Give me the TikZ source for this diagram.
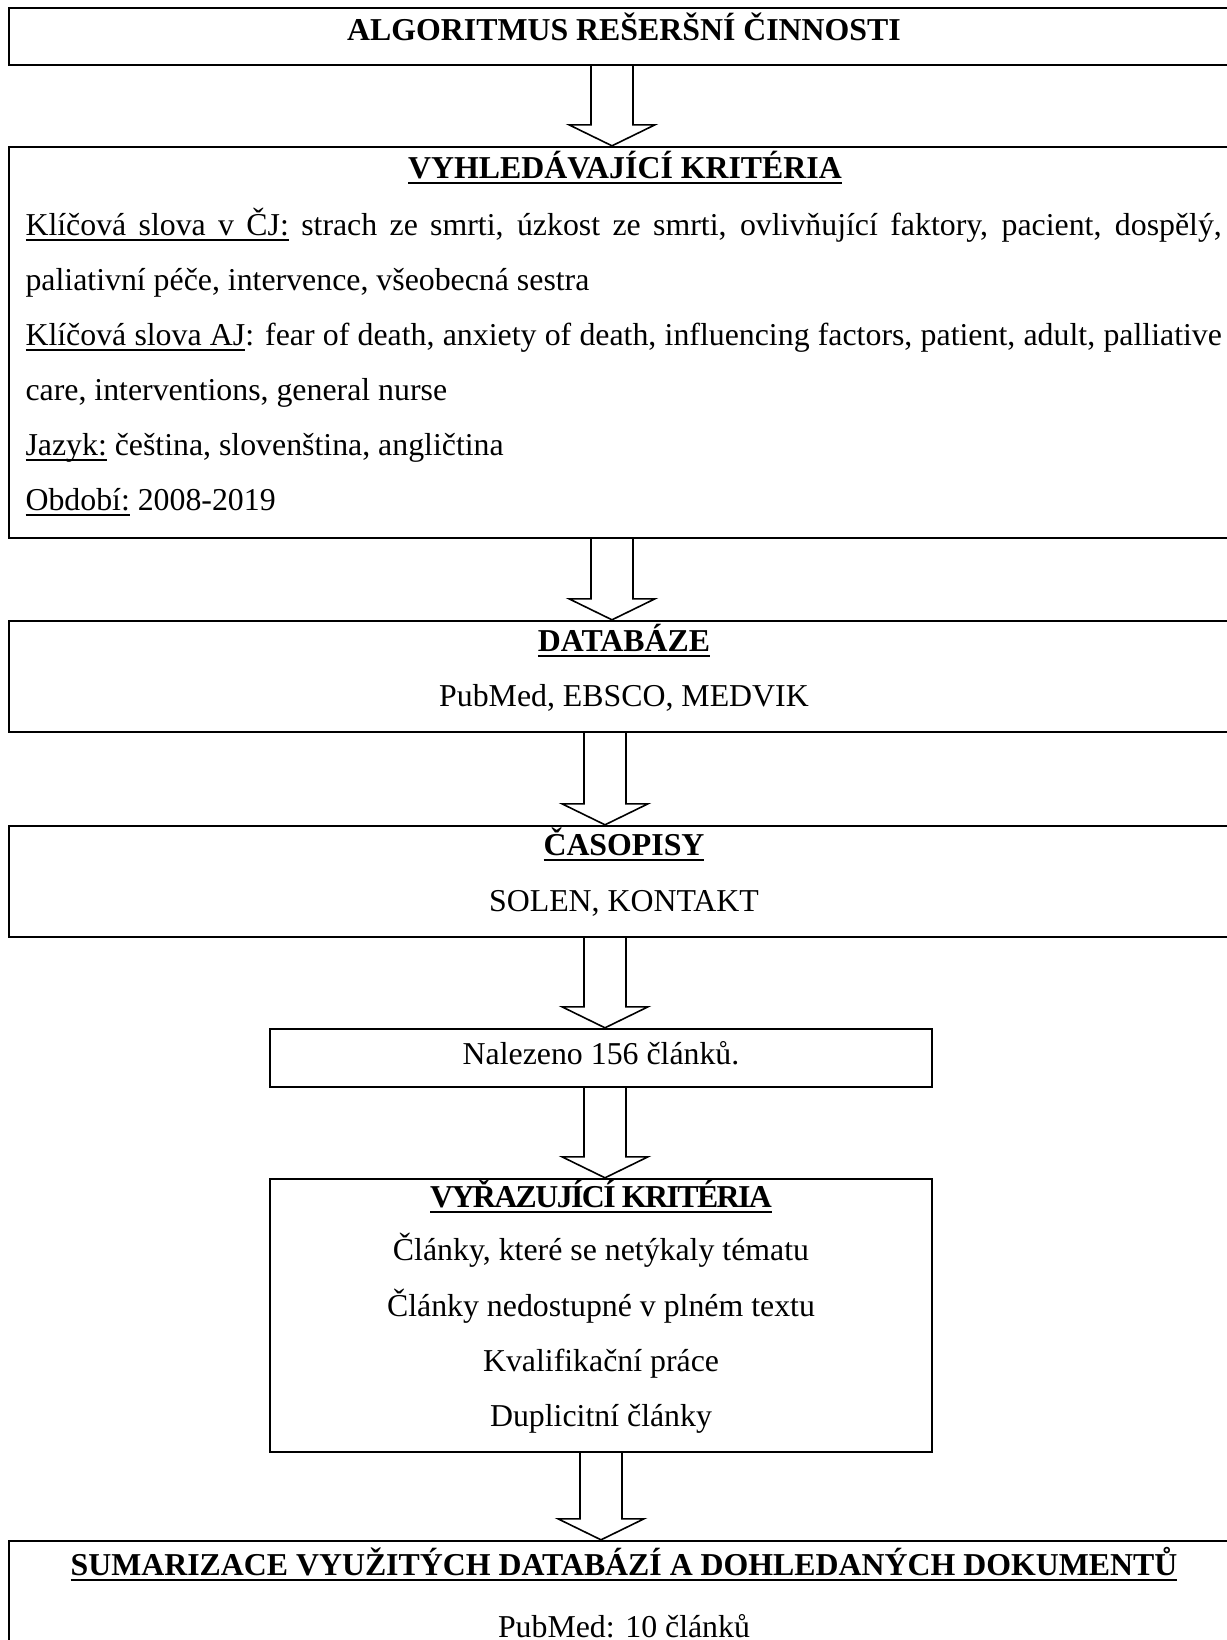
\documentclass[12pt,tikz,border=0pt]{standalone}
\usepackage{fontspec}
\setmainfont{Liberation Serif}
\usetikzlibrary{calc,fit}

% underline at a fixed depth (Word style)
\newsavebox{\ulbox}
\newcommand{\ul}[1]{\sbox{\ulbox}{#1}\rlap{\rule[-2.2pt]{\wd\ulbox}{0.7pt}}\usebox{\ulbox}}
\newcommand{\ulsp}{\leaders\hrule height -1.5pt depth 2.2pt\hskip\fontdimen2\font plus \fontdimen3\font minus \fontdimen4\font\relax}

\tikzset{
  box/.style={draw, line width=0.9pt, inner sep=0pt},
  head/.style={font=\fontsize{12}{14}\selectfont\bfseries, anchor=base, inner sep=0pt},
  txt/.style={font=\fontsize{12}{14}\selectfont, anchor=base, inner sep=0pt},
  arrowline/.style={draw, line width=0.6pt},
}

% hollow block arrow: from node, to node, x of the arrow axis
\newcommand{\blockarrow}[3]{%
  \coordinate (ax) at (#3,0);
  \draw[arrowline] ($(#1.south -| ax)+(-21,0)$) -- ($(#2.north -| ax)+(-21,-21)$)
    -- ($(#2.north -| ax)+(-43,-21)$) -- (#2.north -| ax)
    -- ($(#2.north -| ax)+(43,-21)$) -- ($(#2.north -| ax)+(21,-21)$)
    -- ($(#1.south -| ax)+(21,0)$);
}

\begin{document}
\begin{tikzpicture}[x=0.377pt, y=-0.377pt]
  \clip (0,0) rectangle (1227,1640);

  % boxes
  \node[box, fit={(9,8) (1239,65)}] (algo) {};
  \node[box, fit={(9,147) (1239,538)}] (krit) {};
  \node[box, fit={(9,621) (1239,732)}] (db) {};
  \node[box, fit={(9,826) (1239,937)}] (cas) {};
  \node[box, fit={(270,1029) (932,1087)}] (nal) {};
  \node[box, fit={(270,1179) (932,1452)}] (vyr) {};
  \node[box, fit={(9,1541) (1239,1720)}] (sum) {};

  % algorithm title
  \node[head] (algoT) at (624,40) {ALGORITMUS REŠERŠNÍ ČINNOSTI};

  % search criteria
  \node[head] (kritT) at (625,178) {\ul{VYHLEDÁVAJÍCÍ KRITÉRIA}};
  \node[txt, anchor=base west] (kw1) at (25,235) {\makebox[451pt][s]{\ul{Klíčová}\ulsp\ul{slova}\ulsp\ul{v}\ulsp\ul{ČJ:} strach ze smrti, úzkost ze smrti, ovlivňující faktory, pacient, dospělý,}};
  \node[txt, anchor=base west] (kw2) at (25,290) {paliativní péče, intervence, všeobecná sestra};
  \node[txt, anchor=base west] (kw3) at (25,345) {\makebox[451pt][s]{\ul{Klíčová}\ulsp\ul{slova}\ulsp\ul{AJ}: fear of death, anxiety of death, influencing factors, patient, adult, palliative}};
  \node[txt, anchor=base west] (kw4) at (25,400) {care, interventions, general nurse};
  \node[txt, anchor=base west] (lang) at (25,455) {\ul{Jazyk:} čeština, slovenština, angličtina};
  \node[txt, anchor=base west] (per) at (25,510) {\ul{Období:} 2008-2019};

  % databases
  \node[head] (dbT) at (624,651) {\ul{DATABÁZE}};
  \node[txt] (dbL) at (624,706) {PubMed, EBSCO, MEDVIK};

  % journals
  \node[head] (casT) at (624,855) {\ul{ČASOPISY}};
  \node[txt] (casL) at (624,911) {SOLEN, KONTAKT};

  % found
  \node[txt] (nalT) at (601,1064) {Nalezeno 156 článků.};

  % exclusion criteria
  \node[head] (vyrT) at (601,1207) {\ul{\addfontfeature{LetterSpace=-5}VYŘAZUJÍCÍ KRITÉRIA}};
  \node[txt] (ex1) at (601,1260) {Články, které se netýkaly tématu};
  \node[txt] (ex2) at (601,1316) {Články nedostupné v plném textu};
  \node[txt] (ex3) at (601,1371) {Kvalifikační práce};
  \node[txt] (ex4) at (601,1426) {Duplicitní články};

  % summary
  \node[head] (sumT) at (624,1575) {\ul{SUMARIZACE VYUŽITÝCH DATABÁZÍ A DOHLEDANÝCH DOKUMENTŮ}};
  \node[txt] (sumL) at (624,1637) {PubMed: 10 článků};

  % arrows
  \blockarrow{algo}{krit}{612}
  \blockarrow{krit}{db}{612}
  \blockarrow{db}{cas}{605}
  \blockarrow{cas}{nal}{605}
  \blockarrow{nal}{vyr}{605}
  \blockarrow{vyr}{sum}{601}
\end{tikzpicture}
\end{document}
